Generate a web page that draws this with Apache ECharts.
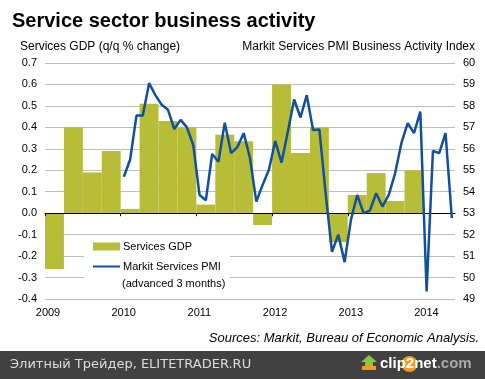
<!DOCTYPE html>
<html><head><meta charset="utf-8">
<script src="https://cdn.jsdelivr.net/npm/echarts@6/dist/echarts.min.js"></script>
<style>html,body{margin:0;padding:0;background:#fff}#c{width:485px;height:379px}</style>
</head><body><div id="c"></div>
<script>
// ---- data ----
const quarterLabels = ['2009Q1','2009Q2','2009Q3','2009Q4','2010Q1','2010Q2','2010Q3','2010Q4',
  '2011Q1','2011Q2','2011Q3','2011Q4','2012Q1','2012Q2','2012Q3','2012Q4',
  '2013Q1','2013Q2','2013Q3','2013Q4'];
const gdpValues = [-0.26,0.40,0.19,0.29, 0.02,0.51,0.43,0.40, 0.04,0.365,0.335,-0.055,
  0.60,0.28,0.40,-0.135, 0.085,0.187,0.057,0.20];
const pmiMonths = ['2010-01','2010-02','2010-03','2010-04','2010-05','2010-06','2010-07','2010-08','2010-09','2010-10','2010-11','2010-12',
  '2011-01','2011-02','2011-03','2011-04','2011-05','2011-06','2011-07','2011-08','2011-09','2011-10','2011-11','2011-12',
  '2012-01','2012-02','2012-03','2012-04','2012-05','2012-06','2012-07','2012-08','2012-09','2012-10','2012-11','2012-12',
  '2013-01','2013-02','2013-03','2013-04','2013-05','2013-06','2013-07','2013-08','2013-09','2013-10','2013-11','2013-12',
  '2014-01','2014-02','2014-03','2014-04','2014-05'];
const pmiValues = [54.7,55.5,57.55,57.55,59.06,58.5,58.05,57.82,56.92,57.35,57.0,56.18,
  53.85,53.6,55.76,55.4,57.22,55.8,56.08,56.73,55.56,53.54,54.32,55.02,
  56.36,55.36,56.8,58.3,57.46,58.5,56.88,56.9,53.9,51.2,52.0,50.72,
  52.69,53.85,53.0,53.12,53.93,53.31,53.85,54.86,56.26,57.2,56.73,57.74,
  49.35,55.9,55.8,56.73,52.77];
const yearTicks = [2009,2010,2011,2012,2013,2014];
const xEnd = 2014 + 5/12; // axis runs through May 2014

// ---- helpers ----
const FONT = "'Liberation Sans', Arial, sans-serif";
const OLIVE = '#b7bd36';
const BLUE = '#11509c';
function quarterSpan(q){ const y=+q.slice(0,4), n=+q.slice(5); const s=y+(n-1)/4; return [s, s+0.25]; }
function monthX(m){ const y=+m.slice(0,4), mm=+m.slice(5); return y+(mm-0.5)/12; }

const barData = quarterLabels.map((q,i)=>{ const sp=quarterSpan(q); return [sp[0], sp[1], gdpValues[i]]; });
const lineData = pmiMonths.map((m,i)=>[monthX(m), pmiValues[i]]);

const chart = echarts.init(document.getElementById('c'), null, {renderer:'canvas'});
chart.setOption({
  animation:false,
  backgroundColor:'#fff',
  title:{text:'Service sector business activity', left:12, top:11, padding:0,
    textStyle:{fontFamily:FONT, fontSize:20, fontWeight:'bold', color:'#000'}},
  grid:{left:45, right:30, top:63, bottom:80, containLabel:false},
  legend:{orient:'vertical', left:92, top:241, padding:0, itemWidth:27, itemHeight:8, itemGap:9,
    selectedMode:false, z:5,
    textStyle:{fontFamily:FONT, fontSize:11, color:'#000', padding:[0,0,0,-2]},
    data:[{name:'Services GDP', icon:'rect'},
          {name:'Markit Services PMI', itemStyle:{opacity:0, color:'rgba(0,0,0,0)', borderWidth:0}}]},
  xAxis:[
    {type:'value', min:2009, max:xEnd, interval:1, position:'bottom',
     axisLine:{show:false, onZero:false}, axisTick:{show:false}, splitLine:{show:false},
     axisLabel:{customValues:yearTicks, formatter:v=>String(Math.round(v)), fontFamily:FONT, fontSize:11, color:'#000', margin:8, padding:[0,0,0,6]}},
    {type:'value', min:2009, max:xEnd, interval:1, position:'top', z:3,
     axisLine:{show:true, onZero:true, onZeroAxisIndex:0, lineStyle:{color:'#000', width:1}},
     axisTick:{show:true, inside:true, length:3, customValues:yearTicks, lineStyle:{color:'#000'}},
     axisLabel:{show:false}, splitLine:{show:false}}
  ],
  yAxis:[
    {type:'value', min:-0.4, max:0.7, interval:0.1, position:'left',
     axisLine:{show:false}, axisTick:{show:false},
     splitLine:{show:true, lineStyle:{color:'#bebebe', width:1}},
     axisLabel:{formatter:v=>v.toFixed(1), fontFamily:FONT, fontSize:11, color:'#000', margin:8}},
    {type:'value', min:49, max:60, interval:1, position:'right',
     axisLine:{show:false}, axisTick:{show:false}, splitLine:{show:false},
     axisLabel:{fontFamily:FONT, fontSize:11, color:'#000', margin:8}}
  ],
  series:[
    {name:'Services GDP', type:'custom', xAxisIndex:0, yAxisIndex:0, z:2,
     itemStyle:{color:OLIVE},
     encode:{x:[0,1], y:2},
     data:barData,
     renderItem:function(params, api){
       const p0 = api.coord([api.value(0), api.value(2)]);
       const p1 = api.coord([api.value(1), 0]);
       return {type:'rect', shape:{x:p0[0], y:Math.min(p0[1],p1[1]), width:p1[0]-p0[0], height:Math.abs(p1[1]-p0[1])},
         style:{fill:OLIVE}};
     }},
    {name:'Markit Services PMI', type:'line', xAxisIndex:0, yAxisIndex:1, z:4,
     symbol:'none', showSymbol:false,
     lineStyle:{color:BLUE, width:2.5}, itemStyle:{color:BLUE},
     data:lineData}
  ],
  graphic:[
    {type:'rect', z:1, shape:{x:84, y:236, width:146, height:61}, style:{fill:'#fff'}},
    {type:'text', z:6, x:122, y:284, style:{text:'(advanced 3 months)', font:'11px '+FONT, fill:'#000', textAlign:'left', textVerticalAlign:'middle'}},
    {type:'text', x:20, y:47, style:{text:'Services GDP (q/q % change)', font:'12px '+FONT, fill:'#000', textAlign:'left', textVerticalAlign:'middle'}},
    {type:'text', x:475, y:47, style:{text:'Markit Services PMI Business Activity Index', font:'12px '+FONT, fill:'#000', textAlign:'right', textVerticalAlign:'middle'}},
    {type:'text', x:479, y:338, style:{text:'Sources: Markit, Bureau of Economic Analysis.', font:'italic 13px '+FONT, fill:'#000', textAlign:'right', textVerticalAlign:'middle'}},
    {type:'rect', shape:{x:0, y:351, width:485, height:28}, style:{fill:'#414141'}},
    {type:'text', x:10, y:365, style:{text:'Элитный Трейдер, ELITETRADER.RU', font:"13px 'DejaVu Sans', sans-serif", fill:'#dcdcdc', textAlign:'left', textVerticalAlign:'middle'}},
    {type:'polygon', shape:{points:[[369,355],[377,362],[373,362],[373,366],[365,366],[365,362],[361,362]]}, style:{fill:'#8cc63e'}},
    {type:'rect', shape:{x:362, y:366, width:14, height:4}, style:{fill:'#f39a1e'}},
    {type:'circle', shape:{cx:409.5, cy:364, r:8}, style:{fill:'#f39a1e'}},
    {type:'text', x:380, y:364, style:{
      text:'{w|clip}{w|2}{w|net}{g|.com}', textVerticalAlign:'middle', textAlign:'left',
      rich:{
        w:{font:"bold 15px "+FONT, fill:'#ffffff'},
        g:{font:"bold 15px "+FONT, fill:'#a9a9a9'}
      }}}
  ]
});
</script>
</body></html>
